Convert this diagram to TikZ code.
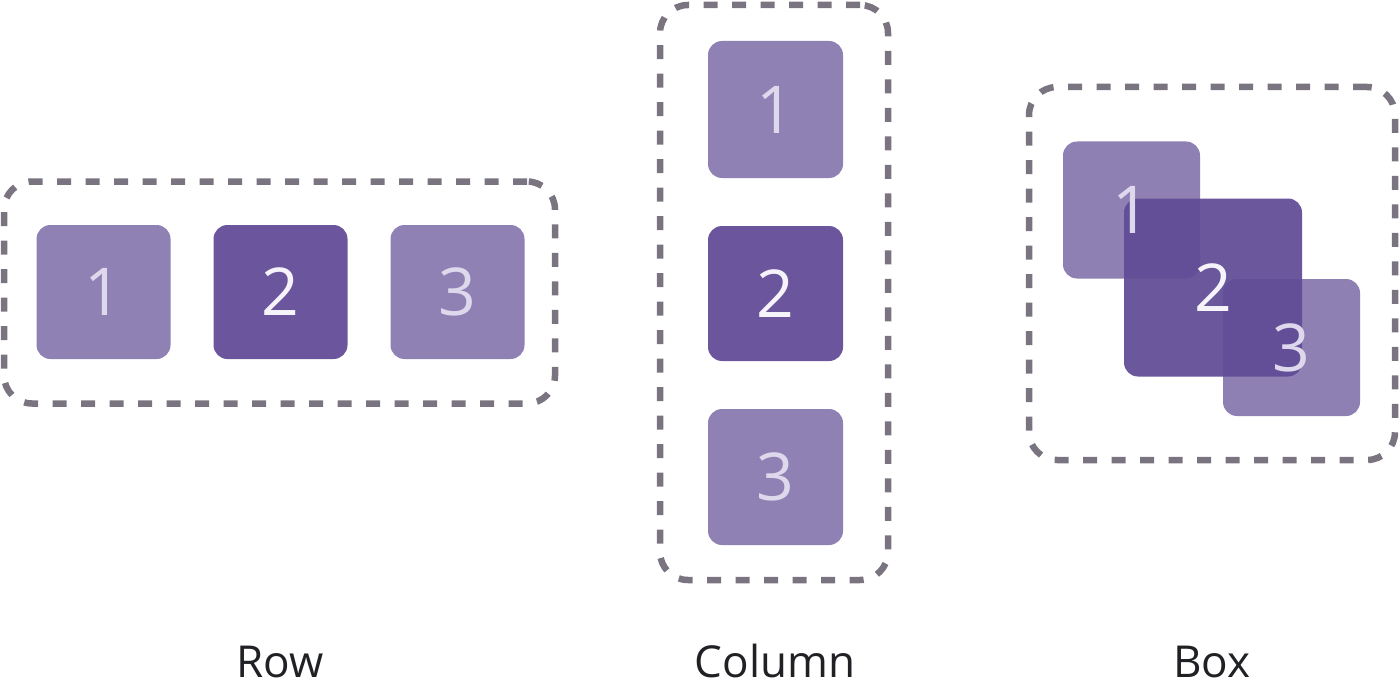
\documentclass[tikz,border=0pt]{standalone}
\usepackage{fontspec}
\setmainfont{Open Sans}
\definecolor{basep}{RGB}{97,76,150}
\definecolor{lightp}{RGB}{143,129,180}
\definecolor{darkp}{RGB}{107,85,156}
\definecolor{framec}{RGB}{122,116,128}
\definecolor{digl}{RGB}{222,216,236}
\definecolor{digd}{RGB}{246,244,250}
\definecolor{labc}{RGB}{32,33,36}
\begin{document}
\begin{tikzpicture}[x=1pt,y=-1pt,
  frame/.style={draw=framec, line width=6.5pt, dash pattern=on 14pt off 14.5pt, rounded corners=28pt, inner sep=0pt},
  lbox/.style={fill=lightp, rounded corners=14pt, minimum size=134pt, inner sep=0pt, text=digl, font=\fontsize{66}{66}\selectfont},
  dbox/.style={fill=darkp, rounded corners=14pt, minimum size=134pt, inner sep=0pt, text=digd, font=\fontsize{66}{66}\selectfont},
  tlbox/.style={fill=basep, fill opacity=0.71, rounded corners=14pt, minimum size=137pt, inner sep=0pt},
  tdbox/.style={fill=basep, fill opacity=0.94, rounded corners=14pt, minimum size=178pt, inner sep=0pt},
  dig/.style={inner sep=0pt, font=\fontsize{66}{66}\selectfont},
  lab/.style={inner sep=0pt, text=labc, font=\fontsize{44}{44}\selectfont, anchor=base}
]
\useasboundingbox (0,0) rectangle (1400,690);
% Row
\node[frame, minimum width=551pt, minimum height=222pt] (rowframe) at (279.5,292.5) {};
\node[lbox] (r1) at (103.5,292) {1};
\node[dbox] (r2) at (280.5,292) {2};
\node[lbox] (r3) at (457.5,292) {3};
% Column
\node[frame, minimum width=228pt, minimum height=575pt] (colframe) at (774,292.5) {};
\node[lbox, minimum width=135pt, minimum height=137pt] (c1) at (775.5,109.5) {1};
\node[dbox, minimum width=135pt, minimum height=135pt] (c2) at (775.5,293.5) {2};
\node[lbox, minimum width=135pt, minimum height=136pt] (c3) at (775.5,477) {3};
% Box
\node[frame, minimum width=366pt, minimum height=373pt] (boxframe) at (1212,273.5) {};
\node[tlbox] (b1) at (1131.5,210) {};
\node[tdbox] (b2) at (1213,287.5) {};
\node[tlbox] (b3) at (1291.5,347.5) {};
\node[dig, text=digl] (b1t) at (b1) {1};
\node[dig, text=digd] (b2t) at (b2) {2};
\node[dig, text=digl] (b3t) at (b3) {3};
% Labels
\node[lab] (lrow) at (280,677) {Row};
\node[lab] (lcol) at (775,677) {Column};
\node[lab] (lbox) at (1212,677) {Box};
\end{tikzpicture}
\end{document}
